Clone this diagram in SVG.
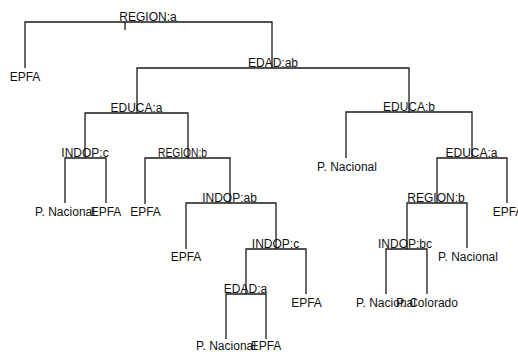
<svg xmlns="http://www.w3.org/2000/svg" width="518" height="352" viewBox="0 0 518 352">
<style>
  .e { stroke: #1a1a1a; stroke-width: 1.3; fill: none; }
  text { font-family: "Liberation Sans", Arial, sans-serif; font-size: 12px; fill: #111; text-anchor: middle; }
</style>
<rect width="518" height="352" fill="#fff"/>
<g id="connectors" class="e">
  <path d="M25,68 V22 H272 V68"/>
  <path d="M125,22 V30"/>
  <path d="M137,113 V68 H409 V113"/>
  <path d="M85,158 V113 H188 V158"/>
  <path d="M65,203 V158 H106 V203"/>
  <path d="M145,204 V158 H230 V203"/>
  <path d="M186,249 V203 H276 V249"/>
  <path d="M246,294 V249 H306 V294"/>
  <path d="M226,339 V294 H266 V339"/>
  <path d="M346,158 V112 H472 V158"/>
  <path d="M437,203 V158 H507 V203"/>
  <path d="M407,249 V203 H467 V248"/>
  <path d="M386,294 V249 H427 V294"/>
</g>
<g id="n_root"><text x="148" y="21">REGION:a</text></g>
<g id="n_epfa1"><text x="25" y="80.5">EPFA</text></g>
<g id="n_edad_ab"><text x="273" y="67">EDAD:ab</text></g>
<g id="n_educa_a1"><text x="136.5" y="112">EDUCA:a</text></g>
<g id="n_indop_c1"><text x="85" y="157">INDOP:c</text></g>
<g id="n_pnac1"><text x="65" y="215.5">P. Nacional</text></g>
<g id="n_epfa2"><text x="106" y="215.5">EPFA</text></g>
<g id="n_region_b1"><text x="182.5" y="157" textLength="49" lengthAdjust="spacingAndGlyphs">REGION:b</text></g>
<g id="n_epfa3"><text x="145.5" y="215.5">EPFA</text></g>
<g id="n_indop_ab"><text x="229.5" y="202">INDOP:ab</text></g>
<g id="n_epfa4"><text x="186" y="261">EPFA</text></g>
<g id="n_indop_c2"><text x="275.5" y="248">INDOP:c</text></g>
<g id="n_edad_a"><text x="245.5" y="293">EDAD:a</text></g>
<g id="n_pnac2"><text x="226" y="350">P. Nacional</text></g>
<g id="n_epfa5"><text x="266" y="350">EPFA</text></g>
<g id="n_epfa6"><text x="306.5" y="306.5">EPFA</text></g>
<g id="n_educa_b"><text x="409" y="111">EDUCA:b</text></g>
<g id="n_pnac3"><text x="347" y="170.5">P. Nacional</text></g>
<g id="n_educa_a2"><text x="471.5" y="157">EDUCA:a</text></g>
<g id="n_region_b2"><text x="436" y="202">REGION:b</text></g>
<g id="n_indop_bc"><text x="405" y="248">INDOP:bc</text></g>
<g id="n_pnac4"><text x="386" y="306.5">P. Nacional</text></g>
<g id="n_pcol"><text x="427" y="306.5">P. Colorado</text></g>
<g id="n_pnac5"><text x="468" y="261">P. Nacional</text></g>
<g id="n_epfa7"><text x="508" y="215.5">EPFA</text></g>
</svg>
